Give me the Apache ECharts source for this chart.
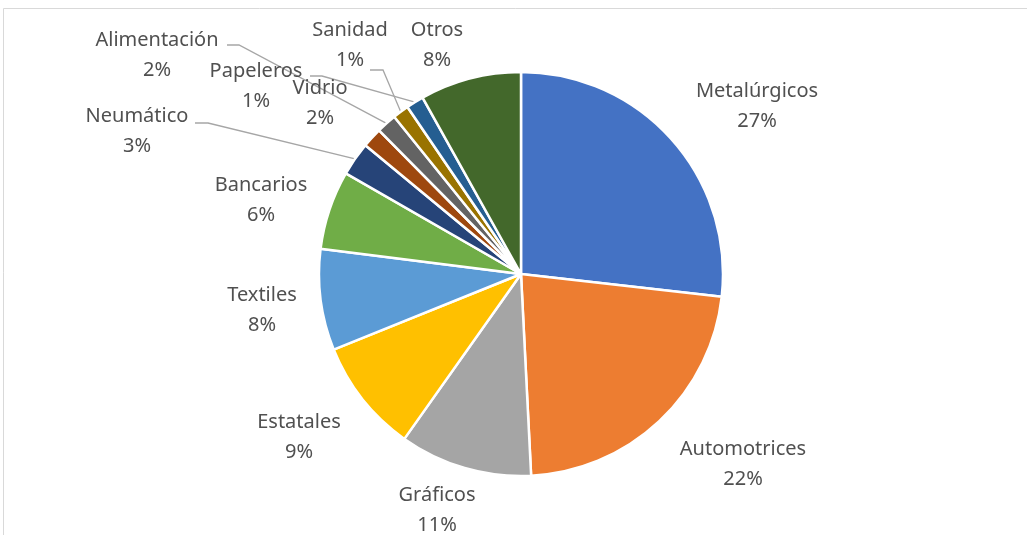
<!DOCTYPE html>
<html>
<head>
<meta charset="utf-8">
<script src="https://cdn.jsdelivr.net/npm/echarts@6/dist/echarts.min.js"></script>
<style>
  html, body { margin: 0; padding: 0; background: #fff; }
  #chart { width: 1027px; height: 535px; }
</style>
</head>
<body>
<div id="chart"></div>
<script>
// sectores, en el orden del gráfico (sentido horario desde las 12)
var sectores = ['Metalúrgicos', 'Automotrices', 'Gráficos', 'Estatales', 'Textiles', 'Bancarios',
  'Neumático', 'Vidrio', 'Alimentación', 'Sanidad', 'Papeleros', 'Otros'];
var valores = [26.8, 22.4, 10.6, 9.1, 8.1, 6.3, 2.7, 1.6, 1.6, 1.3, 1.4, 8.1];
var colores = ['#4472C4', '#ED7D31', '#A5A5A5', '#FFC000', '#5B9BD5', '#70AD47',
  '#264478', '#9E480E', '#636363', '#997300', '#255E91', '#43682B'];

// posición de las etiquetas (centro del texto) y si llevan línea guía
var etiquetaPos = [[757, 106], [743, 464], [437, 510], [299, 437], [262, 310], [261, 200],
  [137, 131], [320, 103], [157, 55], [350, 45], [256, 86], [437, 45]];
var conLinea = [false, false, false, false, false, false, true, false, true, true, true, false];
// extremo de la línea del lado de la etiqueta: [x inicio, x codo, y]
var lineaExtremo = {6: [195, 208, 123], 8: [227, 239, 45], 9: [370, 383, 70], 10: [310, 322, 76]};

var chart = echarts.init(document.getElementById('chart'));

var datos = sectores.map(function (s, i) {
  return {
    name: s,
    value: valores[i],
    itemStyle: { color: colores[i] },
    labelLine: { show: conLinea[i] }
  };
});

chart.setOption({
  animation: false,
  backgroundColor: '#fff',
  graphic: [{
    type: 'rect',
    shape: { x: 3.5, y: 8.5, width: 1100, height: 600 },
    style: { fill: 'none', stroke: '#D9D9D9', lineWidth: 1 }
  }],
  series: [{
    type: 'pie',
    center: [521, 274],
    radius: [0, 202],
    startAngle: 90,
    clockwise: true,
    data: datos,
    itemStyle: { borderColor: '#fff', borderWidth: 2.5 },
    label: {
      show: true,
      position: 'outside',
      color: '#505050',
      fontFamily: 'Noto Sans',
      fontSize: 20,
      lineHeight: 30,
      align: 'center',
      formatter: function (p) {
        return p.name + '\n' + Math.round(p.percent) + '%';
      }
    },
    labelLine: {
      lineStyle: { color: '#A6A6A6', width: 1.3 }
    },
    labelLayout: function (p) {
      var i = p.dataIndex;
      var out = { x: etiquetaPos[i][0], y: etiquetaPos[i][1], align: 'center', verticalAlign: 'middle' };
      if (lineaExtremo[i] && p.labelLinePoints) {
        var e = lineaExtremo[i];
        out.labelLinePoints = [p.labelLinePoints[0], [e[1], e[2]], [e[0], e[2]]];
      }
      return out;
    }
  }]
});
</script>
</body>
</html>
